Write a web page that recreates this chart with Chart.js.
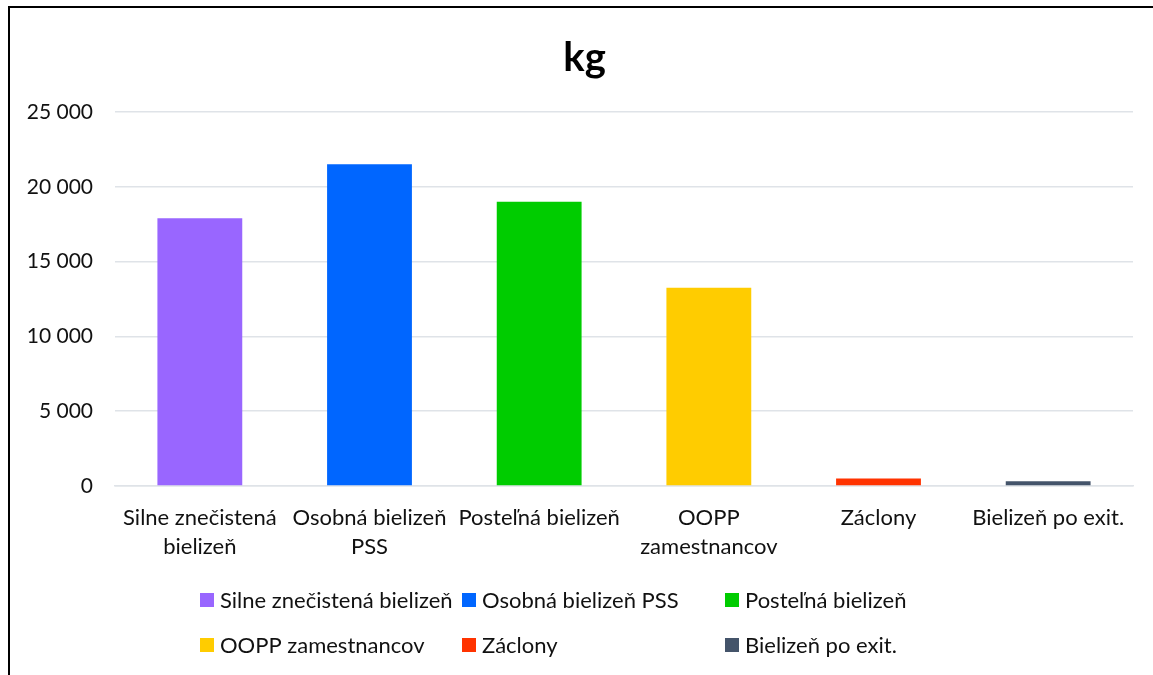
<!DOCTYPE html>
<html>
<head>
<meta charset="utf-8">
<script src="https://cdn.jsdelivr.net/npm/chart.js@4/dist/chart.umd.min.js"></script>
<style>
  html, body { margin: 0; padding: 0; background: #fff; overflow: hidden; }
  #frame {
    position: absolute; left: 8px; top: 6px;
    width: 1160px; height: 690px;
    border: 2px solid #000;
    box-sizing: content-box;
  }
  #myChart { position: absolute; left: 0; top: 0; }
</style>
</head>
<body>
<div id="frame"><canvas id="myChart" width="1145" height="669"></canvas></div>
<script>
// categories (legend names) and x-axis tick labels
const categories = ['Silne znečistená bielizeň', 'Osobná bielizeň PSS', 'Posteľná bielizeň',
  'OOPP zamestnancov', 'Záclony', 'Bielizeň po exit.'];
const tickLabels = [['Silne znečistená', 'bielizeň'], ['Osobná bielizeň', 'PSS'], 'Posteľná bielizeň',
  ['OOPP', 'zamestnancov'], 'Záclony', 'Bielizeň po exit.'];
// kg
const values = [17900, 21500, 19000, 13250, 500, 310];
const yTicks = [0, 5000, 10000, 15000, 20000, 25000];

const barColors = ['#9966ff', '#0066ff', '#00cc00', '#ffcc00', '#ff3300', '#44546a'];
const fontFamily = 'Lato, "Open Sans", sans-serif';

// legend in 3 columns x 2 rows, like the excel one
const gridLegend = {
  id: 'gridLegend',
  afterLayout(chart) {
    // excel centers the title on the whole frame, not the padded box
    if (chart.titleBlock) {
      chart.titleBlock.left += 13;
      chart.titleBlock.right += 13;
    }
  },
  afterDraw(chart) {
    const ctx = chart.ctx;
    const colX = [190, 452, 715];
    const rowY = [592, 637];
    ctx.save();
    ctx.font = '22px ' + fontFamily;
    ctx.textBaseline = 'middle';
    ctx.textAlign = 'left';
    categories.forEach(function (name, i) {
      const x = colX[i % 3];
      const y = rowY[Math.floor(i / 3)];
      ctx.fillStyle = barColors[i];
      ctx.fillRect(x, y - 7, 14, 14);
      ctx.fillStyle = '#111';
      ctx.fillText(name, x + 20, y + 1);
    });
    ctx.restore();
  }
};

const ctx = document.getElementById('myChart').getContext('2d');
const myChart = new Chart(ctx, {
  type: 'bar',
  data: {
    labels: tickLabels,
    datasets: [{
      label: 'kg',
      data: values,
      backgroundColor: barColors,
      borderWidth: 0,
      categoryPercentage: 1,
      barPercentage: 0.5
    }]
  },
  plugins: [gridLegend],
  options: {
    responsive: false,
    animation: false,
    layout: { padding: { left: 0, right: 22, top: 0, bottom: 0 } },
    plugins: {
      legend: { display: false },
      tooltip: { enabled: false },
      title: {
        display: true,
        text: 'kg',
        color: '#000',
        font: { family: fontFamily, size: 40, weight: 'bold', lineHeight: 1.2 },
        padding: { top: 26, bottom: 30 }
      }
    },
    scales: {
      x: {
        grid: { display: false, drawTicks: false },
        border: { display: true, color: '#dfe3e8', width: 1.5 },
        ticks: {
          color: '#111',
          font: { family: fontFamily, size: 22, lineHeight: 1.32 },
          padding: 17,
          maxRotation: 0,
          autoSkip: false
        },
        afterFit: function (scale) { scale.height = 191; }
      },
      y: {
        min: 0,
        max: 25000,
        afterBuildTicks: function (scale) {
          scale.ticks = yTicks.map(function (v) { return { value: v }; });
        },
        grid: { color: '#dfe3e8', lineWidth: 1.5, drawTicks: false },
        border: { display: false },
        ticks: {
          color: '#111',
          font: { family: fontFamily, size: 21 },
          padding: 22,
          callback: function (v) { return v.toLocaleString('en-US').replace(/,/g, ' '); }
        },
        afterFit: function (scale) { scale.width = 105; }
      }
    }
  }
});
</script>
</body>
</html>
